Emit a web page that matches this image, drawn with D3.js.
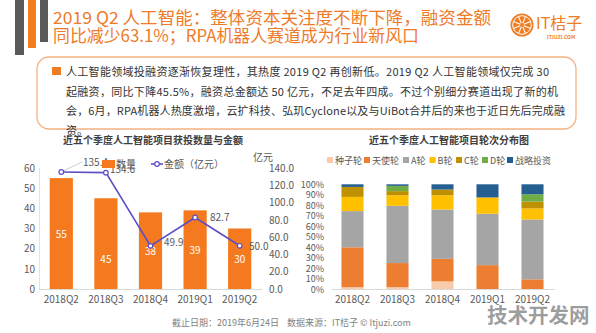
<!DOCTYPE html>
<html>
<head>
<meta charset="utf-8">
<script src="https://cdn.jsdelivr.net/npm/d3@7"></script>
<style>
  html, body { margin: 0; padding: 0; background: #fff; }
  svg { display: block; font-family: "Noto Sans CJK SC", "Noto Sans", sans-serif; }
</style>
</head>
<body>
<svg id="slide" width="596" height="333"></svg>
<script>
// quarterly deal data
var quarters = ["2018Q2", "2018Q3", "2018Q4", "2019Q1", "2019Q2"];
var dealCounts = [55, 45, 38, 39, 30];
var dealAmounts = [135.4, 134.6, 49.9, 82.7, 50.0];
var countTicks = [0, 10, 20, 30, 40, 50, 60];
var amountTicks = [0, 20, 40, 60, 80, 100, 120, 140];

// share of deals by round, percent, one row per quarter
var roundNames = ["种子轮", "天使轮", "A轮", "B轮", "C轮", "D轮", "战略投资"];
var roundShares = [
  [2, 38, 34.5, 13.5, 9.5, 0, 2.5],
  [2, 23, 54.5, 10, 4, 5, 1.5],
  [7.5, 21.5, 47, 13.5, 5.5, 0, 5],
  [0, 23, 49, 15.5, 0, 0, 12.5],
  [0, 9.5, 57, 10.5, 6.5, 7, 9.5]
];
var shareTicks = [0, 10, 20, 30, 40, 50, 60, 70, 80, 90, 100];

var titleLines = [
  "2019 Q2 人工智能：整体资本关注度不断下降，融资金额",
  "同比减少63.1%；RPA机器人赛道成为行业新风口"
];
var summaryLines = [
  "人工智能领域投融资逐渐恢复理性，其热度 2019 Q2 再创新低。2019 Q2 人工智能领域仅完成 30",
  "起融资，同比下降45.5%，融资总金额达 50 亿元，不足去年四成。不过个别细分赛道出现了新的机",
  "会，6月，RPA机器人热度激增，云扩科技、弘玑Cyclone以及与UiBot合并后的来也于近日先后完成融",
  "资。"
];

var ORANGE = "#f07d22";
var AXIS_TEXT = "#595959";
var roundColors = ["#f8cbad", "#ed7d31", "#a5a5a5", "#ffc000", "#bf9000", "#70ad47", "#255e91"];

var svg = d3.select("#slide");

// ---- header ----
var header = svg.append("g").attr("class", "header");
header.append("rect").attr("x", 15).attr("y", 0).attr("width", 9).attr("height", 55).attr("fill", "#5a5a5a");
header.append("rect").attr("x", 28).attr("y", 0).attr("width", 8).attr("height", 48).attr("fill", ORANGE);
header.append("rect").attr("x", 40).attr("y", 0).attr("width", 8).attr("height", 42).attr("fill", "#5a5a5a");

var titleWidths = [438, 366];
header.selectAll("text.title")
  .data(titleLines)
  .enter().append("text")
  .attr("class", "title")
  .attr("x", 53)
  .attr("y", function(d, i) { return 24 + i * 18; })
  .attr("font-size", "17px")
  .attr("fill", "#ee7b2a")
  .attr("textLength", function(d, i) { return titleWidths[i]; })
  .attr("lengthAdjust", "spacingAndGlyphs")
  .text(function(d) { return d; });

// logo
var logo = header.append("g").attr("transform", "translate(522,25)");
logo.append("circle").attr("r", 11.5).attr("fill", ORANGE);
logo.append("circle").attr("r", 9.3).attr("fill", "none").attr("stroke", "#fff").attr("stroke-width", 1);
d3.range(8).forEach(function(k) {
  var a = k * Math.PI / 4 + Math.PI / 8;
  logo.append("line")
    .attr("x1", 0).attr("y1", 0)
    .attr("x2", Math.cos(a) * 9.3).attr("y2", Math.sin(a) * 9.3)
    .attr("stroke", "#fff").attr("stroke-width", 1.1);
});
logo.append("circle").attr("r", 2).attr("fill", ORANGE);
header.append("text").attr("x", 536).attr("y", 29).attr("font-size", "16px").attr("fill", ORANGE).text("IT桔子");
header.append("text").attr("x", 547).attr("y", 39).attr("font-size", "5px").attr("font-weight", "bold").attr("fill", ORANGE).text("ITJUZI.COM");

// ---- summary box ----
svg.append("rect")
  .attr("x", 37).attr("y", 57).attr("width", 539).attr("height", 72)
  .attr("rx", 12).attr("ry", 12)
  .attr("fill", "none").attr("stroke", "#f4b183").attr("stroke-width", 1.3);
svg.append("rect").attr("x", 52).attr("y", 67).attr("width", 9).attr("height", 8).attr("fill", ORANGE);

var summaryWidths = [483, 492, 499, null];
svg.selectAll("text.summary")
  .data(summaryLines)
  .enter().append("text")
  .attr("class", "summary")
  .attr("x", 66)
  .attr("y", function(d, i) { return 76 + i * 19.5; })
  .attr("font-size", "11px")
  .attr("fill", "#333")
  .each(function(d, i) {
    if (summaryWidths[i]) d3.select(this).attr("textLength", summaryWidths[i]).attr("lengthAdjust", "spacing");
  })
  .text(function(d) { return d; });

// ---- left chart: deal count bars + amount line ----
var left = svg.append("g").attr("class", "left-chart");

var xL = d3.scaleBand().domain(quarters).range([39, 262]).paddingInner(0.48).paddingOuter(0.24);
var yCount = d3.scaleLinear().domain([0, 60]).range([289, 168]);
var yAmount = d3.scaleLinear().domain([0, 140]).range([289, 168]);

left.append("text")
  .attr("x", 153).attr("y", 144)
  .attr("text-anchor", "middle")
  .attr("font-size", "10px").attr("font-weight", "bold").attr("fill", "#404040")
  .text("近五个季度人工智能项目获投数量与金额");

left.append("line").attr("x1", 39.5).attr("x2", 39.5).attr("y1", 168).attr("y2", 289).attr("stroke", "#e3e3e3");

var axisL = left.append("g").attr("transform", "translate(39,0)")
  .call(d3.axisLeft(yCount).tickValues(countTicks).tickSize(0).tickPadding(4));
var axisR = left.append("g").attr("transform", "translate(265,0)")
  .call(d3.axisRight(yAmount).tickValues(amountTicks).tickSize(0).tickPadding(4).tickFormat(d3.format(".1f")));
var axisX = left.append("g").attr("transform", "translate(0,289)")
  .call(d3.axisBottom(xL).tickSize(0).tickPadding(7));

[axisL, axisR, axisX].forEach(function(a) {
  a.select(".domain").remove();
  a.selectAll("text").attr("font-size", "10px").attr("fill", AXIS_TEXT).attr("font-family", "Noto Sans CJK SC, sans-serif");
});
left.append("line").attr("x1", 39).attr("x2", 262).attr("y1", 289.5).attr("y2", 289.5).attr("stroke", "#d9d9d9");

left.selectAll("rect.bar")
  .data(dealCounts)
  .enter().append("rect")
  .attr("class", "bar")
  .attr("x", function(d, i) { return xL(quarters[i]); })
  .attr("y", function(d) { return yCount(d); })
  .attr("width", xL.bandwidth())
  .attr("height", function(d) { return yCount(0) - yCount(d); })
  .attr("fill", "#f57a1f");

// 2018Q3 label sits lower in its bar
var barLabelShift = [0, 15, 0, 0, 0];
left.selectAll("text.bar-label")
  .data(dealCounts)
  .enter().append("text")
  .attr("class", "bar-label")
  .attr("x", function(d, i) { return xL(quarters[i]) + xL.bandwidth() / 2; })
  .attr("y", function(d, i) { return (yCount(d) + yCount(0)) / 2 + 4 + barLabelShift[i]; })
  .attr("text-anchor", "middle")
  .attr("font-size", "10px").attr("fill", "#fff")
  .text(function(d) { return d; });

var cx = function(i) { return xL(quarters[i]) + xL.bandwidth() / 2; };
var line = d3.line().x(function(d, i) { return cx(i); }).y(function(d) { return yAmount(d); });
left.append("path").datum(dealAmounts)
  .attr("d", line).attr("fill", "none").attr("stroke", "#5b4fc6").attr("stroke-width", 1.6);

// amount labels; the first one is pulled up with a leader line
var amountLabelPos = [[83, 166], [110, 173], [164, 246], [210, 221], [249, 250]];
left.append("line")
  .attr("x1", cx(0) + 2).attr("y1", yAmount(dealAmounts[0]) - 1)
  .attr("x2", 82).attr("y2", 162)
  .attr("stroke", "#bfbfbf").attr("stroke-width", 0.8);
left.selectAll("text.amount-label")
  .data(dealAmounts)
  .enter().append("text")
  .attr("class", "amount-label")
  .attr("x", function(d, i) { return amountLabelPos[i][0]; })
  .attr("y", function(d, i) { return amountLabelPos[i][1]; })
  .attr("font-size", "10px").attr("fill", AXIS_TEXT)
  .text(function(d) { return d.toFixed(1); });

left.selectAll("circle.pt")
  .data(dealAmounts)
  .enter().append("circle")
  .attr("class", "pt")
  .attr("cx", function(d, i) { return cx(i); })
  .attr("cy", function(d) { return yAmount(d); })
  .attr("r", 2.3)
  .attr("fill", "#fff").attr("stroke", "#5b4fc6").attr("stroke-width", 1.2);

// legend
left.append("rect").attr("x", 102).attr("y", 160).attr("width", 13).attr("height", 8).attr("fill", "#f57a1f");
left.append("text").attr("x", 116).attr("y", 168).attr("font-size", "10px").attr("fill", AXIS_TEXT).text("数量");
left.append("line").attr("x1", 151).attr("x2", 163).attr("y1", 164).attr("y2", 164).attr("stroke", "#5b4fc6").attr("stroke-width", 1.6);
left.append("circle").attr("cx", 157).attr("cy", 164).attr("r", 2.3).attr("fill", "#fff").attr("stroke", "#5b4fc6").attr("stroke-width", 1.2);
left.append("text").attr("x", 164).attr("y", 168).attr("font-size", "10px").attr("fill", AXIS_TEXT).text("金额（亿元）");
left.append("text").attr("x", 253).attr("y", 161).attr("font-size", "10px").attr("fill", AXIS_TEXT).text("亿元");

// ---- right chart: round distribution ----
var right = svg.append("g").attr("class", "right-chart");

var xR = d3.scaleBand().domain(quarters).range([330, 555]).paddingInner(0.51).paddingOuter(0.255);
var yShare = d3.scaleLinear().domain([0, 100]).range([289.3, 184.3]);

right.append("text")
  .attr("x", 449).attr("y", 144)
  .attr("text-anchor", "middle")
  .attr("font-size", "10px").attr("font-weight", "bold").attr("fill", "#404040")
  .text("近五个季度人工智能项目轮次分布图");

var rows = quarters.map(function(q, i) {
  var row = { quarter: q };
  roundNames.forEach(function(r, j) { row[r] = roundShares[i][j]; });
  return row;
});
var series = d3.stack().keys(roundNames)(rows);

right.selectAll("g.layer")
  .data(series)
  .enter().append("g")
  .attr("class", "layer")
  .attr("fill", function(d, j) { return roundColors[j]; })
  .selectAll("rect")
  .data(function(d) { return d; })
  .enter().append("rect")
  .attr("x", function(d) { return xR(d.data.quarter); })
  .attr("y", function(d) { return yShare(d[1]); })
  .attr("width", xR.bandwidth())
  .attr("height", function(d) { return yShare(d[0]) - yShare(d[1]); });

var axisS = right.append("g").attr("transform", "translate(326,0)")
  .call(d3.axisLeft(yShare).tickValues(shareTicks).tickSize(0).tickPadding(2).tickFormat(function(d) { return d + "%"; }));
var axisSX = right.append("g").attr("transform", "translate(0,289)")
  .call(d3.axisBottom(xR).tickSize(0).tickPadding(7));
axisS.selectAll("text").attr("font-size", "9px");
axisSX.selectAll("text").attr("font-size", "10px");
[axisS, axisSX].forEach(function(a) {
  a.select(".domain").remove();
  a.selectAll("text").attr("fill", AXIS_TEXT).attr("font-family", "Noto Sans CJK SC, sans-serif");
});
right.append("line").attr("x1", 332).attr("x2", 555).attr("y1", 289.5).attr("y2", 289.5).attr("stroke", "#d9d9d9");

var legendX = [327, 364, 403, 429.5, 456, 482, 507];
var legend = right.selectAll("g.legend")
  .data(roundNames)
  .enter().append("g")
  .attr("class", "legend")
  .attr("transform", function(d, j) { return "translate(" + legendX[j] + ",160)"; });
legend.append("rect").attr("x", 0).attr("y", -3).attr("width", 6).attr("height", 6)
  .attr("fill", function(d, j) { return roundColors[j]; });
legend.append("text").attr("x", 8).attr("y", 3.5).attr("font-size", "9px").attr("fill", AXIS_TEXT)
  .text(function(d) { return d; });

// ---- footer ----
svg.append("text").attr("x", 172).attr("y", 326).attr("font-size", "9px").attr("fill", "#7f7f7f").text("截止日期：2019年6月24日");
svg.append("text").attr("x", 287).attr("y", 326).attr("font-size", "9px").attr("fill", "#7f7f7f").text("数据来源：IT桔子 © Itjuzi.com");
svg.append("text").attr("x", 487).attr("y", 323).attr("font-size", "20.5px").attr("font-weight", "bold")
  .attr("fill", "#8c8c8c").attr("fill-opacity", 0.85).text("技术开发网");
</script>
</body>
</html>
